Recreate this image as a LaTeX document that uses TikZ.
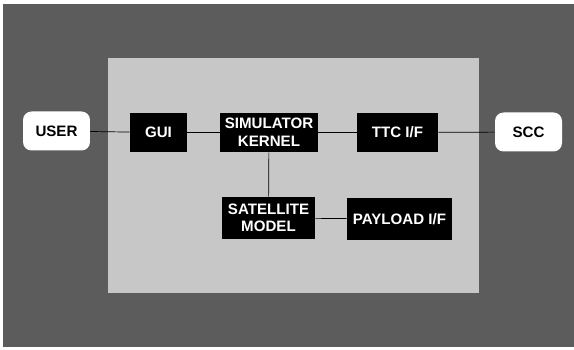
\documentclass[tikz,border=0pt]{standalone}
\usepackage{fontspec}
\setsansfont{Liberation Sans}
\usepackage{tikz}
\usetikzlibrary{positioning}

\begin{document}
\begin{tikzpicture}[x=0.02cm, y=-0.02cm,
  every node/.style={font=\sffamily\bfseries\fontsize{8.6}{10}\selectfont, align=center, inner sep=0pt},
  blk/.style={fill=black, text=white, minimum height=0.78cm},
  ext/.style={fill=white, text=black, rounded corners=0.17cm, minimum width=1.34cm, minimum height=0.78cm}]
\useasboundingbox (0,0) rectangle (574,350);
\fill[black!64] (3,4) rectangle (574,347);
\fill[black!22] (108,58) rectangle (479,293);
\node[ext] (user) at (56.5,131) {USER};
\node[ext] (scc) at (528.5,132) {SCC};
\node[blk, minimum width=1.14cm] (gui) at (158.5,132.5) {GUI};
\node[blk, minimum width=1.96cm] (kernel) at (269,132.5) {SIMULATOR\\KERNEL};
\node[blk, minimum width=1.62cm] (ttc) at (397.5,132.5) {TTC I/F};
\node[blk, minimum width=1.86cm, minimum height=0.84cm] (sat) at (268.5,218) {SATELLITE\\MODEL};
\node[blk, minimum width=2.1cm, minimum height=0.84cm] (pay) at (399.5,219) {PAYLOAD I/F};
\draw (user)--(gui); \draw (gui)--(kernel);
\draw (kernel)--(ttc); \draw (ttc)--(scc);
\draw (kernel)--(sat); \draw (sat)--(pay);
\end{tikzpicture}
\end{document}
